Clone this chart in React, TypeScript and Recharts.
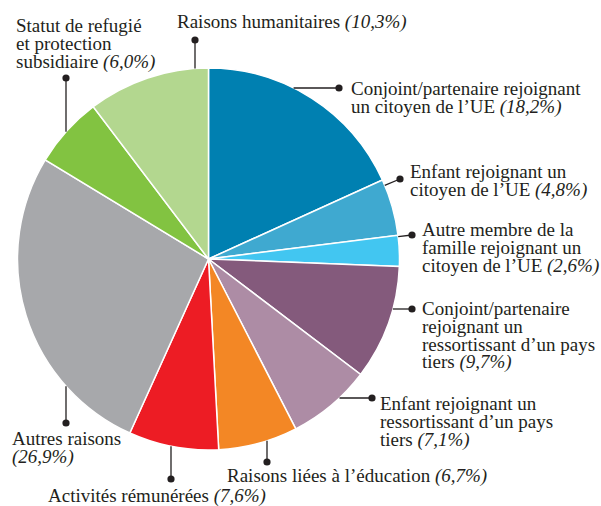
import { PieChart, Pie, Cell } from 'recharts';

const categories = [
  'Conjoint/partenaire rejoignant un citoyen de l’UE',
  'Enfant rejoignant un citoyen de l’UE',
  'Autre membre de la famille rejoignant un citoyen de l’UE',
  'Conjoint/partenaire rejoignant un ressortissant d’un pays tiers',
  'Enfant rejoignant un ressortissant d’un pays tiers',
  'Raisons liées à l’éducation',
  'Activités rémunérées',
  'Autres raisons',
  'Statut de refugié et protection subsidiaire',
  'Raisons humanitaires',
];
const shares = [18.2, 4.8, 2.6, 9.7, 7.1, 6.7, 7.6, 26.9, 6.0, 10.3];
const colours = [
  '#0080b1', '#3fa9d0', '#42c6f1', '#845a7c', '#ad8ca5',
  '#f38725', '#ed1c24', '#a7a8ab', '#82c341', '#b3d78f',
];
// wrapped label text, the percentage goes at the end of the last line
const labelLines: string[][] = [
  ['Conjoint/partenaire rejoignant', 'un citoyen de l’UE'],
  ['Enfant rejoignant un', 'citoyen de l’UE'],
  ['Autre membre de la', 'famille rejoignant un', 'citoyen de l’UE'],
  ['Conjoint/partenaire', 'rejoignant un', 'ressortissant d’un pays', 'tiers'],
  ['Enfant rejoignant un', 'ressortissant d’un pays', 'tiers'],
  ['Raisons liées à l’éducation'],
  ['Activités rémunérées'],
  ['Autres raisons', ''],
  ['Statut de refugié', 'et protection', 'subsidiaire'],
  ['Raisons humanitaires'],
];

const data = categories.map((name, i) => ({ name, value: shares[i] }));

const CX = 208.5;
const CY = 259;
const R = 191;

type Lead = 'h' | 'v' | 'r';
const layout: { dot: [number, number]; lead: Lead; tx: number; ty: number }[] = [
  { dot: [339, 88], lead: 'h', tx: 351, ty: 95 },
  { dot: [400, 179], lead: 'r', tx: 410, ty: 178 },
  { dot: [412, 235], lead: 'r', tx: 422, ty: 236 },
  { dot: [412, 309], lead: 'h', tx: 422, ty: 315 },
  { dot: [372, 398], lead: 'h', tx: 380, ty: 410 },
  { dot: [267, 462], lead: 'v', tx: 227, ty: 482 },
  { dot: [171, 479], lead: 'v', tx: 48, ty: 502 },
  { dot: [66, 423], lead: 'v', tx: 12, ty: 445 },
  { dot: [66, 78], lead: 'v', tx: 16, ty: 32 },
  { dot: [195, 40], lead: 'v', tx: 177, ty: 28 },
];

const INK = '#231f20';
const LINE_H = 17.8;
const FONT = '"Liberation Serif"';
const fmt = (v: number) => `(${v.toFixed(1).replace('.', ',')}%)`;

function Callout({ index }: { index: number }) {
  const cfg = layout[index];
  const [dx, dy] = cfg.dot;
  let sx = dx;
  let sy = dy;
  if (cfg.lead === 'h') {
    const off = Math.sqrt(Math.max(R * R - (dy - CY) ** 2, 0));
    sx = dx > CX ? CX + off : CX - off;
  } else if (cfg.lead === 'v') {
    const off = Math.sqrt(Math.max(R * R - (dx - CX) ** 2, 0));
    sy = dy > CY ? CY + off : CY - off;
  } else {
    const a = Math.atan2(dy - CY, dx - CX);
    sx = CX + R * Math.cos(a);
    sy = CY + R * Math.sin(a);
  }
  const lines = labelLines[index];
  return (
    <g>
      <line x1={sx} y1={sy} x2={dx} y2={dy} stroke={INK} strokeWidth={1.3} />
      <circle cx={dx} cy={dy} r={3.6} fill={INK} />
      <text x={cfg.tx} y={cfg.ty} fill={INK} style={{ fontFamily: FONT, fontSize: 19 }}>
        {lines.map((ln, j) => (
          <tspan key={j} x={cfg.tx} y={cfg.ty + j * LINE_H}>
            {ln}
            {j === lines.length - 1 && (
              <tspan fontStyle="italic">{(ln ? ' ' : '') + fmt(shares[index])}</tspan>
            )}
          </tspan>
        ))}
      </text>
    </g>
  );
}

export default function App() {
  return (
    <div style={{ position: 'absolute', left: 0, top: 0, width: 601, height: 506, background: '#fff' }}>
      <PieChart width={601} height={506} margin={{ top: 0, right: 0, bottom: 0, left: 0 }}>
        <Pie
          data={data}
          dataKey="value"
          nameKey="name"
          cx={CX}
          cy={CY}
          outerRadius={R}
          startAngle={90}
          endAngle={-270}
          stroke="#ffffff"
          strokeWidth={1.5}
          isAnimationActive={false}
        >
          {data.map((d, i) => (
            <Cell key={d.name} fill={colours[i]} />
          ))}
        </Pie>
      </PieChart>
      <svg width={601} height={506} style={{ position: 'absolute', left: 0, top: 0, pointerEvents: 'none' }}>
        {categories.map((c, i) => (
          <Callout key={c} index={i} />
        ))}
      </svg>
    </div>
  );
}
